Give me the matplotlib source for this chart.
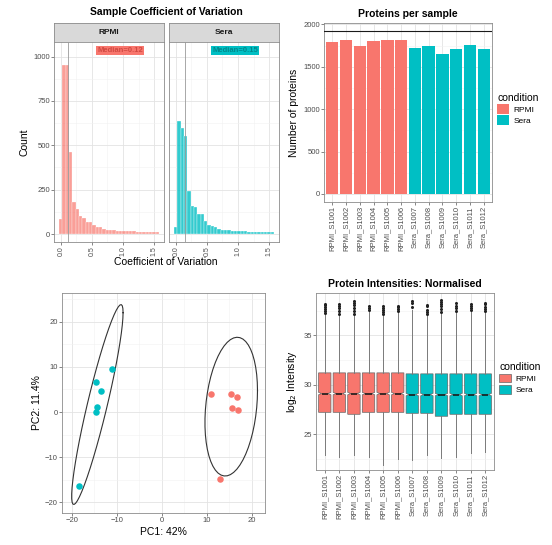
import numpy as np
import matplotlib
matplotlib.use("Agg")
import matplotlib.pyplot as plt
from matplotlib.patches import Patch
from matplotlib.ticker import MultipleLocator

plt.rcParams['font.family'] = ['Liberation Sans', 'DejaVu Sans']

RED = "#F8766D"
TEAL = "#00BFC4"

# -- data ---------------------------------------------------------------------
conditions = ["RPMI", "Sera"]

# CV histogram (30 bins)
cv_bin_start = -0.027
cv_bin_width = 0.0535
cv_counts_rpmi = [85, 955, 955, 462, 178, 140, 103, 90, 67, 67, 50, 39, 39, 30, 25,
                  22, 20, 19, 19, 18, 17, 16, 15, 14, 13, 12, 11, 10, 10, 9]
cv_counts_sera = [39, 637, 600, 552, 243, 160, 150, 115, 110, 75, 50, 45, 40, 28, 24,
                  21, 20, 19, 18, 17, 16, 15, 14, 13, 12, 11, 10, 10, 9, 9]
cv_medians = [0.117, 0.147]
cv_median_labels = ["Median=0.12", "Median=0.15"]

# proteins per sample
samples = ["RPMI_S1001", "RPMI_S1002", "RPMI_S1003", "RPMI_S1004", "RPMI_S1005", "RPMI_S1006",
           "Sera_S1007", "Sera_S1008", "Sera_S1009", "Sera_S1010", "Sera_S1011", "Sera_S1012"]
sample_condition = ["RPMI"] * 6 + ["Sera"] * 6
protein_counts = [1792, 1812, 1745, 1804, 1820, 1820, 1721, 1745, 1647, 1714, 1753, 1706]
total_proteins = 1921

# PCA scores
pc1_rpmi = [10.8, 15.3, 16.6, 15.5, 16.9, 12.9]
pc2_rpmi = [4.0, 4.0, 3.4, 0.8, 0.4, -14.9]
pc1_sera = [-11.2, -14.7, -13.6, -14.5, -14.7, -18.4]
pc2_sera = [9.6, 6.6, 4.7, 1.2, 0.1, -16.4]

# normalised intensities (box stats)
box_q1 = [27.2, 27.2, 27.0, 27.2, 27.2, 27.2, 27.1, 27.1, 26.8, 27.0, 27.0, 27.0]
box_med = [29.1, 29.1, 29.1, 29.1, 29.1, 29.1, 29.0, 29.0, 29.0, 29.0, 29.0, 29.0]
box_q3 = [31.2, 31.2, 31.2, 31.2, 31.2, 31.2, 31.1, 31.1, 31.1, 31.1, 31.1, 31.1]
box_lo = [22.9, 22.7, 22.9, 22.7, 21.9, 22.5, 22.4, 22.9, 22.6, 22.7, 23.1, 23.2]
box_hi = [37.2, 37.1, 37.1, 37.5, 37.1, 37.4, 37.6, 37.1, 37.3, 37.3, 37.5, 37.3]
box_fliers = [
    [37.3, 37.5, 37.7, 37.9, 38.1, 38.2],
    [37.2, 37.5, 37.8, 38.0, 38.2],
    [37.2, 37.5, 37.8, 38.1, 38.3, 38.5],
    [37.6, 37.8, 38.0],
    [37.2, 37.4, 37.6, 37.8, 38.0],
    [37.5, 37.7, 37.9, 38.0],
    [37.9, 38.3, 38.5],
    [37.2, 37.4, 37.6, 38.0, 38.1],
    [37.4, 37.7, 38.0, 38.2, 38.4, 38.6],
    [37.5, 37.8, 38.0, 38.3],
    [37.6, 37.8, 38.0, 38.2],
    [37.5, 37.7, 37.9, 38.2, 38.3],
]

# -- helpers ------------------------------------------------------------------
W, H = 552, 545
fig = plt.figure(figsize=(W / 100, H / 100), dpi=100)


def px_axes(x0, y0, x1, y1):
    return fig.add_axes([x0 / W, 1 - y1 / H, (x1 - x0) / W, (y1 - y0) / H])


def fig_text(x, y, s, **kw):
    fig.text(x / W, 1 - y / H, s, **kw)


def theme_bw(ax):
    ax.set_facecolor("white")
    ax.grid(True, which="major", color="#E3E3E3", lw=0.6)
    ax.grid(True, which="minor", color="#F1F1F1", lw=0.4)
    ax.set_axisbelow(True)
    for s in ax.spines.values():
        s.set_color("#8C8C8C")
        s.set_linewidth(0.6)
    ax.tick_params(which="major", length=2, width=0.5, color="#555555",
                   labelsize=5.5, labelcolor="#4D4D4D", pad=1)
    ax.tick_params(which="minor", length=0)


def cov_trob(pts, nu=5, maxit=25, tol=0.01):
    # port of MASS::cov.trob as used by ggplot2::stat_ellipse
    n, p = pts.shape
    wt = np.ones(n)
    loc = pts.mean(axis=0)
    w = np.ones(n)
    X = pts - loc
    for _ in range(maxit):
        w0 = w
        X = pts - loc
        _, d, vt = np.linalg.svd(np.sqrt(w / w.sum())[:, None] * X, full_matrices=False)
        wX = X @ vt.T @ np.diag(1 / d)
        Q = (wX ** 2).sum(axis=1)
        w = wt * (nu + p) / (nu + Q)
        loc = (w[:, None] * pts).sum(axis=0) / w.sum()
        if np.all(np.abs(w - w0) < tol):
            break
    sX = np.sqrt(w)[:, None] * X
    return loc, sX.T @ sX / wt.sum()


def t_ellipse(xs, ys, segments=51):
    pts = np.column_stack([xs, ys])
    center, shape = cov_trob(pts)
    radius = np.sqrt(2 * 5.786135)  # sqrt(dfn * qf(0.95, 2, n - 1)), n = 6
    ang = np.linspace(0, 2 * np.pi, segments + 1)
    circle = np.column_stack([np.cos(ang), np.sin(ang)])
    ell = center + radius * circle @ np.linalg.cholesky(shape).T
    return ell[:, 0], ell[:, 1]


# -- panel 1: CV histograms ---------------------------------------------------
fig_text(166, 12, "Sample Coefficient of Variation", ha="center", va="center",
         fontsize=7.5, fontweight="bold")
edges = cv_bin_start + cv_bin_width * np.arange(len(cv_counts_rpmi) + 1)
hist_boxes = [(54, 164), (169, 279)]
for i, (cond, counts, col, alpha) in enumerate(zip(conditions, [cv_counts_rpmi, cv_counts_sera],
                                                   [RED, TEAL], [0.7, 0.8])):
    x0, x1 = hist_boxes[i]
    strip = px_axes(x0, 23, x1, 42)
    strip.set_xticks([])
    strip.set_yticks([])
    strip.set_facecolor("#D9D9D9")
    for s in strip.spines.values():
        s.set_color("#8C8C8C")
        s.set_linewidth(0.6)
    strip.text(0.5, 0.5, cond, transform=strip.transAxes, ha="center", va="center",
               fontsize=6, fontweight="bold", color="#1A1A1A")

    ax = px_axes(x0, 42, x1, 242)
    theme_bw(ax)
    ax.bar(edges[:-1], counts, width=cv_bin_width, align="edge", color=col, alpha=alpha,
           edgecolor="white", linewidth=0.3, zorder=2)
    ax.axvline(cv_medians[i], color="#9A9A9A", lw=0.6, zorder=3)
    ax.text(0.95, 1035, cv_median_labels[i], ha="center", va="center", fontsize=5.5,
            fontweight="bold", color="#D04A42" if i == 0 else "#00888C",
            bbox=dict(boxstyle="square,pad=0.15", fc=col, ec="none"), zorder=4)
    ax.set_xlim(-0.11, 1.66)
    ax.set_ylim(-45, 1082)
    ax.xaxis.set_major_locator(MultipleLocator(0.5))
    ax.xaxis.set_minor_locator(MultipleLocator(0.25))
    ax.yaxis.set_major_locator(MultipleLocator(250))
    ax.yaxis.set_minor_locator(MultipleLocator(125))
    ax.set_xticks([0, 0.5, 1.0, 1.5], ["0.0", "0.5", "1.0", "1.5"], rotation=90)
    ax.tick_params(axis="x", labelsize=5)
    if i == 0:
        ax.set_ylabel("Count", fontsize=7.5, labelpad=3)
    else:
        ax.tick_params(left=False, labelleft=False)
fig_text(166, 262, "Coefficient of Variation", ha="center", va="center", fontsize=7.5)

# -- panel 2: proteins per sample ---------------------------------------------
ax = px_axes(324, 23, 492, 202)
theme_bw(ax)
xpos = np.arange(1, len(samples) + 1)
bar_cols = [RED if c == "RPMI" else TEAL for c in sample_condition]
ax.bar(xpos, protein_counts, width=0.9, color=bar_cols, zorder=2)
ax.axhline(total_proteins, color="#1A1A1A", lw=0.8, zorder=3)
ax.set_xlim(0.4, len(samples) + 0.6)
ax.set_ylim(-96, 2017)
ax.yaxis.set_major_locator(MultipleLocator(500))
ax.yaxis.set_minor_locator(MultipleLocator(250))
ax.set_xticks(xpos, samples, rotation=90)
ax.set_ylabel("Number of proteins", fontsize=7.5, labelpad=3)
ax.set_title("Proteins per sample", fontsize=7.5, fontweight="bold", pad=4)
ax.legend(handles=[Patch(facecolor=RED, label="RPMI"), Patch(facecolor=TEAL, label="Sera")],
          title="condition", loc="center left", bbox_to_anchor=(1.0, 0.52), frameon=False,
          fontsize=6, title_fontsize=7.5, handlelength=1.4, handleheight=1.4,
          handletextpad=0.6, borderaxespad=0.2, labelspacing=0.15, alignment="left")

# -- panel 3: PCA -------------------------------------------------------------
ax = px_axes(62, 293, 265, 513)
theme_bw(ax)
for xs, ys, col in [(pc1_sera, pc2_sera, TEAL), (pc1_rpmi, pc2_rpmi, RED)]:
    ex, ey = t_ellipse(xs, ys)
    ax.plot(ex, ey, color="#333333", lw=0.8, zorder=2)
    ax.scatter(xs, ys, s=22, color=col, zorder=3, linewidths=0)
ax.set_xlim(-22.2, 22.9)
ax.set_ylim(-22.4, 26.4)
ax.xaxis.set_major_locator(MultipleLocator(10))
ax.xaxis.set_minor_locator(MultipleLocator(5))
ax.yaxis.set_major_locator(MultipleLocator(10))
ax.yaxis.set_minor_locator(MultipleLocator(5))
ax.set_xlabel("PC1: 42%", fontsize=7.5, labelpad=2)
ax.set_ylabel("PC2: 11.4%", fontsize=7.5, labelpad=2)

# -- panel 4: normalised intensities ------------------------------------------
ax = px_axes(316, 293, 494, 470)
theme_bw(ax)
stats = []
for i in range(len(samples)):
    stats.append(dict(med=box_med[i], q1=box_q1[i], q3=box_q3[i], whislo=box_lo[i],
                      whishi=box_hi[i], fliers=box_fliers[i],
                      cilo=box_med[i] - 0.12, cihi=box_med[i] + 0.12))
bp = ax.bxp(stats, positions=xpos, widths=0.85, shownotches=True, patch_artist=True,
            showcaps=False, manage_ticks=False,
            boxprops=dict(edgecolor="#666666", linewidth=0.5),
            whiskerprops=dict(color="#7A7A7A", linewidth=0.7),
            medianprops=dict(color="#1A1A1A", linewidth=1.2),
            flierprops=dict(marker="o", markersize=2.2, markerfacecolor="#222222",
                            markeredgecolor="none"))
for patch, col in zip(bp["boxes"], bar_cols):
    patch.set_facecolor(col)
    patch.set_zorder(2)
ax.set_xlim(0.4, len(samples) + 0.6)
ax.set_ylim(21.35, 39.3)
ax.yaxis.set_major_locator(MultipleLocator(5))
ax.yaxis.set_minor_locator(MultipleLocator(2.5))
ax.set_xticks(xpos, samples, rotation=90)
ax.set_ylabel("log$_2$ Intensity", fontsize=7.5, labelpad=3)
ax.set_title("Protein Intensities: Normalised", fontsize=7.5, fontweight="bold", pad=4)
ax.legend(handles=[Patch(facecolor=RED, edgecolor="#666666", lw=0.5, label="RPMI"),
                   Patch(facecolor=TEAL, edgecolor="#666666", lw=0.5, label="Sera")],
          title="condition", loc="center left", bbox_to_anchor=(1.0, 0.52), frameon=False,
          fontsize=6, title_fontsize=7.5, handlelength=1.4, handleheight=1.2,
          handletextpad=0.6, borderaxespad=0.2, labelspacing=0.25, alignment="left")

fig.savefig("out.png", dpi=100)
